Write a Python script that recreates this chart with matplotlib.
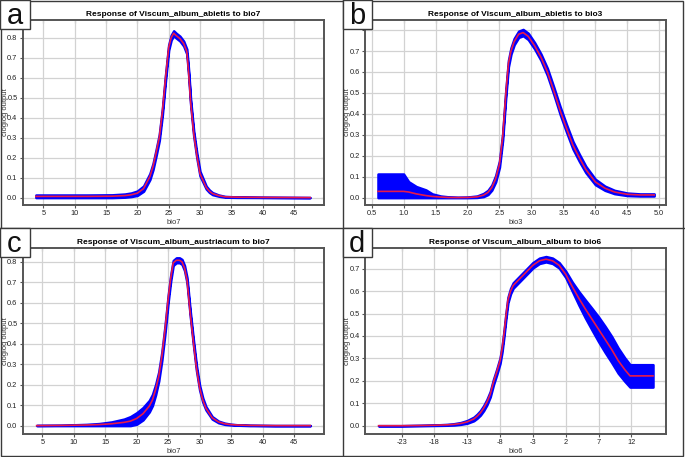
import numpy as np
import matplotlib
matplotlib.use('Agg')
import matplotlib.pyplot as plt
from matplotlib.lines import Line2D
from matplotlib.patches import Rectangle

plt.rcParams['font.family'] = ['Liberation Sans', 'DejaVu Sans']
plt.rcParams['axes.unicode_minus'] = False

# ---- panel a: Viscum_album_abietis / bio7 ----
a_x = [3.8, 8, 12, 16, 18, 19, 20, 21, 21.5, 22, 22.5, 23, 23.5, 24, 24.5, 25, 25.4, 25.8,
       26.2, 26.8, 27.4, 27.9, 28.2, 28.5, 29.0, 29.5, 30.0, 30.5, 31, 31.5, 32, 33, 34, 36, 40, 47.6]
a_mean = [0.006, 0.006, 0.006, 0.007, 0.010, 0.014, 0.022, 0.045, 0.075, 0.105, 0.155, 0.225,
          0.30, 0.43, 0.60, 0.75, 0.80, 0.822, 0.81, 0.795, 0.77, 0.73, 0.62, 0.48, 0.32, 0.21,
          0.12, 0.085, 0.05, 0.032, 0.02, 0.01, 0.004, 0.002, 0.001, 0.0]
a_sd = [0.007, 0.007, 0.007, 0.007, 0.008, 0.009, 0.011, 0.013, 0.014, 0.015, 0.015, 0.015,
        0.015, 0.015, 0.014, 0.013, 0.012, 0.012, 0.012, 0.012, 0.012, 0.012, 0.012, 0.012,
        0.012, 0.012, 0.011, 0.009, 0.007, 0.006, 0.005, 0.003, 0.002, 0.001, 0.0005, 0.0]

# ---- panel b: Viscum_album_abietis / bio3 ----
b_x = [0.6, 1.0, 1.08, 1.2, 1.35, 1.45, 1.58, 1.7, 1.85, 2.0, 2.15, 2.25, 2.32, 2.38, 2.44,
       2.5, 2.55, 2.6, 2.64, 2.68, 2.73, 2.8, 2.87, 2.95, 3.05, 3.15, 3.25, 3.35, 3.45, 3.55,
       3.65, 3.75, 3.85, 4.0, 4.15, 4.3, 4.5, 4.7, 4.92]
b_mean = [0.03, 0.03, 0.027, 0.018, 0.01, 0.006, 0.003, 0.001, 0.0005, 0.001, 0.004, 0.012,
          0.025, 0.048, 0.09, 0.16, 0.29, 0.50, 0.64, 0.70, 0.745, 0.78, 0.788, 0.77, 0.725,
          0.67, 0.60, 0.51, 0.415, 0.33, 0.25, 0.19, 0.135, 0.075, 0.045, 0.027, 0.016, 0.013, 0.013]
b_upper = [0.113, 0.113, 0.076, 0.053, 0.037, 0.018, 0.008, 0.004, 0.002, 0.003, 0.008, 0.02,
           0.035, 0.06, 0.105, 0.175, 0.305, 0.515, 0.655, 0.715, 0.76, 0.795, 0.803, 0.785,
           0.74, 0.685, 0.617, 0.527, 0.433, 0.348, 0.268, 0.207, 0.15, 0.088, 0.055, 0.035,
           0.022, 0.018, 0.018]
b_lower = [0, 0, 0, 0, 0, 0, 0, 0, 0, 0, 0.001, 0.005, 0.015, 0.036, 0.075, 0.145, 0.275,
           0.485, 0.625, 0.685, 0.73, 0.765, 0.773, 0.755, 0.71, 0.655, 0.583, 0.493, 0.397,
           0.312, 0.232, 0.173, 0.12, 0.062, 0.035, 0.019, 0.01, 0.008, 0.008]

# ---- panel c: Viscum_album_austriacum / bio7 ----
c_x = [4.1, 8, 10, 12, 14, 16, 18, 19, 20, 21, 22, 22.5, 23, 23.5, 24, 24.5, 25, 25.4, 25.8,
       26.3, 26.8, 27.2, 27.6, 28, 28.5, 29, 29.5, 30, 30.5, 31, 32, 33, 34, 35, 36, 38, 42, 47.6]
c_mean = [0.0, 0.001, 0.002, 0.003, 0.005, 0.009, 0.016, 0.022, 0.035, 0.058, 0.095, 0.125,
          0.175, 0.24, 0.34, 0.47, 0.62, 0.72, 0.795, 0.808, 0.808, 0.80, 0.77, 0.71, 0.55,
          0.41, 0.28, 0.185, 0.125, 0.085, 0.038, 0.018, 0.009, 0.005, 0.003, 0.001, 0.0, 0.0]
c_sd = [0.001, 0.001, 0.002, 0.003, 0.005, 0.009, 0.016, 0.022, 0.028, 0.03, 0.028, 0.027,
        0.025, 0.022, 0.02, 0.018, 0.016, 0.014, 0.012, 0.012, 0.012, 0.012, 0.012, 0.012,
        0.012, 0.012, 0.012, 0.011, 0.01, 0.008, 0.006, 0.004, 0.003, 0.002, 0.001, 0.001, 0.0, 0.0]

# ---- panel d: Viscum_album_album / bio6 ----
d_x = [-26.5, -23, -20, -18, -16, -15, -14, -13, -12, -11.5, -11, -10.5, -10, -9.5, -9, -8.5,
       -8, -7.7, -7.4, -7.1, -6.8, -6.4, -6, -5, -4, -3, -2, -1, 0, 1, 2, 3, 4, 5, 6, 7, 8, 9,
       10, 11, 11.8, 13, 14, 15.3]
d_mean = [0, 0, 0.001, 0.002, 0.004, 0.006, 0.01, 0.017, 0.03, 0.042, 0.057, 0.078, 0.105,
          0.14, 0.195, 0.24, 0.29, 0.34, 0.41, 0.49, 0.56, 0.60, 0.625, 0.655, 0.685, 0.715,
          0.735, 0.742, 0.735, 0.715, 0.675, 0.62, 0.568, 0.52, 0.475, 0.43, 0.385, 0.34, 0.29,
          0.25, 0.222, 0.222, 0.222, 0.222]
d_sd = [0, 0, 0.001, 0.001, 0.002, 0.003, 0.004, 0.006, 0.008, 0.009, 0.01, 0.011, 0.012,
        0.012, 0.012, 0.012, 0.012, 0.012, 0.012, 0.012, 0.012, 0.012, 0.012, 0.012, 0.012,
        0.012, 0.012, 0.012, 0.012, 0.012, 0.014, 0.02, 0.03, 0.04, 0.048, 0.055, 0.058, 0.058,
        0.056, 0.052, 0.05, 0.05, 0.05, 0.05]

W, H = 685, 457
BLUE = '#0000ff'
RED = '#e8194a'
FRAME = '#555555'


def fig_rect(x0, y0, x1, y1):
    # pixel box (top-left origin) -> figure fraction [l, b, w, h]
    return [x0 / W, 1 - y1 / H, (x1 - x0) / W, (y1 - y0) / H]


def draw_panel(ax, x, lo, hi, mean, xlim, ylim, xticks, xlabels, yticks, ylabels, title, xlabel):
    ax.fill_between(x, lo, hi, color=BLUE, lw=1.8, edgecolor=BLUE, zorder=2)
    ax.plot(x, mean, color=RED, lw=1.2, zorder=3)
    ax.set_xlim(*xlim)
    ax.set_ylim(*ylim)
    ax.set_xticks(xticks)
    ax.set_xticklabels(xlabels)
    ax.set_yticks(yticks)
    ax.set_yticklabels(ylabels)
    ax.grid(True, color='#d2d2d2', lw=0.9, zorder=0)
    ax.set_axisbelow(True)
    for s in ax.spines.values():
        s.set_color(FRAME)
        s.set_linewidth(1.4)
    ax.tick_params(direction='out', length=2.5, width=0.8, color=FRAME,
                   labelsize=5.3, pad=1.3, labelcolor='#222222')
    top = ax.secondary_xaxis('top')
    top.set_xticks(xticks)
    top.tick_params(direction='in', length=2.5, width=0.8, color=FRAME, labeltop=False)
    top.spines['top'].set_visible(False)
    right = ax.secondary_yaxis('right')
    right.set_yticks(yticks)
    right.tick_params(direction='in', length=2.5, width=0.8, color=FRAME, labelright=False)
    right.spines['right'].set_visible(False)
    ax.set_title(title, fontsize=6.0, fontweight='bold', pad=3.2)
    ax.set_xlabel(xlabel, fontsize=5.4, labelpad=1.5, color='#333333')
    ax.set_ylabel('cloglog output', fontsize=5.4, color='#333333')
    ax.yaxis.set_label_coords(-14.0 / 301.3, 0.5)


fig = plt.figure(figsize=(W / 100, H / 100), dpi=100)

yt8 = np.round(np.arange(0, 0.81, 0.1), 1)
yl8 = ['%.1f' % v for v in yt8]
yt7 = np.round(np.arange(0, 0.71, 0.1), 1)
yl7 = ['%.1f' % v for v in yt7]

bio7_ticks = list(range(5, 46, 5))
bio7_labels = [str(v) for v in bio7_ticks]

# a
ax_a = fig.add_axes(fig_rect(22.7, 20, 324, 205))
a_lo = np.clip(np.array(a_mean) - np.array(a_sd), 0, None)
a_hi = np.array(a_mean) + np.array(a_sd)
draw_panel(ax_a, a_x, a_lo, a_hi, a_mean, (1.7, 49.8), (-0.037, 0.888), bio7_ticks, bio7_labels,
           yt8, yl8, 'Response of Viscum_album_abietis to bio7', 'bio7')

# b
ax_b = fig.add_axes(fig_rect(365, 20, 666, 205))
b_ticks = np.round(np.arange(0.5, 5.01, 0.5), 1)
draw_panel(ax_b, b_x, b_lower, b_upper, b_mean, (0.397, 5.105), (-0.035, 0.848), b_ticks,
           ['%.1f' % v for v in b_ticks], yt8, yl7 + [''],
           'Response of Viscum_album_abietis to bio3', 'bio3')

# c
ax_c = fig.add_axes(fig_rect(22.7, 248, 324, 434))
c_lo = np.clip(np.array(c_mean) - np.array(c_sd), 0, None)
c_hi = np.array(c_mean) + np.array(c_sd)
draw_panel(ax_c, c_x, c_lo, c_hi, c_mean, (1.88, 49.77), (-0.041, 0.868), bio7_ticks, bio7_labels,
           yt8, yl8, 'Response of Viscum_album_austriacum to bio7', 'bio7')

# d
ax_d = fig.add_axes(fig_rect(365, 248, 666, 434))
d_lo = np.clip(np.array(d_mean) - np.array(d_sd), 0, None)
d_hi = np.array(d_mean) + np.array(d_sd)
d_ticks = list(range(-23, 13, 5))
draw_panel(ax_d, d_x, d_lo, d_hi, d_mean, (-28.57, 17.28), (-0.037, 0.792), d_ticks,
           [str(v) for v in d_ticks], yt7, yl7, 'Response of Viscum_album_album to bio6', 'bio6')

# panel separators and outer frame
sep = '#3a3a3a'
fig.add_artist(Line2D([342.5 / W, 342.5 / W], [0, 1], color=sep, lw=1.0))
fig.add_artist(Line2D([0, 1], [1 - 228 / H, 1 - 228 / H], color=sep, lw=1.0))
fig.add_artist(Rectangle((0.5 / W, 1.5 / H), (W - 2.5) / W, (H - 2.5) / H, fill=False,
                         edgecolor=sep, lw=1.0, transform=fig.transFigure))

# panel letters
for letter, (px, py) in zip('abcd', [(0, 0), (342.5, 0), (0, 228), (342.5, 228)]):
    fig.add_artist(Rectangle((px / W, 1 - (py + 29) / H), 30 / W, 29 / H, facecolor='white',
                             edgecolor=sep, lw=1.0, transform=fig.transFigure, zorder=10))
    fig.text((px + 14.5) / W, 1 - (py + 24.5) / H, letter, fontsize=21, ha='center',
             va='baseline', zorder=11, color='#111111')

fig.savefig('out.png', dpi=100)
